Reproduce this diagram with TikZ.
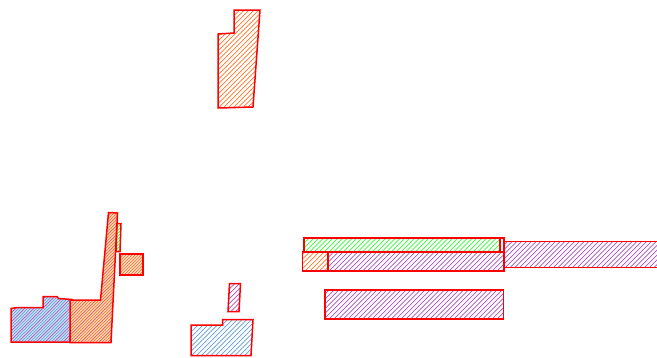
\documentclass[tikz,border=0pt]{standalone}
\definecolor{hor}{RGB}{255,120,40}
\definecolor{hgr}{RGB}{50,255,50}
\definecolor{hpu}{RGB}{175,80,195}
\definecolor{hbl}{RGB}{100,160,220}
\tikzset{
  outl/.style={draw=red, line width=1.5pt, line join=miter},
}
% #1 colour, #2 horizontal step, #3 number of lines, #4 clip path
\newcommand\myhatch[4]{%
  \begin{scope}
    \clip #4;
    \foreach \k in {0,...,#3} {\draw[#1, line width=0.7pt] ({-360+\k*#2},360) -- ++(360,-360);}
  \end{scope}}
\begin{document}
\begin{tikzpicture}[x=1pt,y=-1pt]
\useasboundingbox (0,0) rectangle (657,357);
\clip (0,0) rectangle (657,357);
% top orange polygon
\myhatch{hor}{4.8}{215}{(234,10) -- (260,10) -- (253,107) -- (218,108) -- (218,34) -- (234,33) -- cycle}
\draw[outl] (234,10) -- (260,10) -- (253,107) -- (218,108) -- (218,34) -- (234,33) -- cycle;
% blue polygon lower left
\fill[hbl!30] (11,308.5) -- (18,307.5) -- (43,307.5) -- (43,296.5) -- (57,296.5) -- (58.5,298.5) -- (72,299.5) -- (70,342) -- (11,342) -- cycle;
\myhatch{hbl}{3}{340}{(11,308.5) -- (18,307.5) -- (43,307.5) -- (43,296.5) -- (57,296.5) -- (58.5,298.5) -- (72,299.5) -- (70,342) -- (11,342) -- cycle}
\myhatch{hpu!90}{9}{115}{(11,308.5) -- (18,307.5) -- (43,307.5) -- (43,296.5) -- (57,296.5) -- (58.5,298.5) -- (72,299.5) -- (70,342) -- (11,342) -- cycle}
\draw[outl] (11,308.5) -- (18,307.5) -- (43,307.5) -- (43,296.5) -- (57,296.5) -- (58.5,298.5) -- (72,299.5) -- (70,342) -- (11,342) -- cycle;
% tall orange polygon
\fill[hor!25] (70,300) -- (100.5,300) -- (108.5,212.5) -- (117.5,213) -- (111,342.5) -- (70,342.5) -- cycle;
\myhatch{hor}{3}{340}{(70,300) -- (100.5,300) -- (108.5,212.5) -- (117.5,213) -- (111,342.5) -- (70,342.5) -- cycle}
\myhatch{hor!60!hpu}{9}{115}{(70,300) -- (100.5,300) -- (108.5,212.5) -- (117.5,213) -- (111,342.5) -- (70,342.5) -- cycle}
\draw[outl] (70,300) -- (100.5,300) -- (108.5,212.5) -- (117.5,213) -- (111,342.5) -- (70,342.5) -- cycle;
% green sliver
\myhatch{hgr}{3}{340}{(117,223.5) -- (121,223.5) -- (120,251.5) -- (116,251.5) -- cycle}
\draw[outl] (117,223.5) -- (121,223.5) -- (120,251.5) -- (116,251.5) -- cycle;
% small orange rectangle
\fill[hor!20] (120,254) rectangle (143,275);
\myhatch{hor}{3}{340}{(120,254) rectangle (143,275)}
\draw[outl] (120,254) rectangle (143,275);
% small purple quad
\myhatch{hpu}{4.8}{215}{(229.5,283.5) -- (240.5,283.5) -- (239,311.5) -- (228,311.5) -- cycle}
\draw[outl] (229.5,283.5) -- (240.5,283.5) -- (239,311.5) -- (228,311.5) -- cycle;
% lower blue polygon
\myhatch{hbl}{4.8}{215}{(191,325) -- (222.5,325) -- (222.5,319.5) -- (253,319.5) -- (251,355.5) -- (191,355.5) -- cycle}
\draw[outl] (191,325) -- (222.5,325) -- (222.5,319.5) -- (253,319.5) -- (251,355.5) -- (191,355.5) -- cycle;
% right rectangles
\myhatch{hpu}{4.8}{215}{(504,241.5) rectangle (662,267.5)}
\draw[outl] (504,241.5) rectangle (662,267.5);
\myhatch{hpu}{4.8}{215}{(328,252) rectangle (504,271)}
\draw[outl] (328,252) rectangle (504,271);
\myhatch{hor}{4.8}{215}{(302.5,252) rectangle (328,271)}
\draw[outl] (302.5,252) rectangle (328,271);
\myhatch{hgr}{4.8}{215}{(304,238) rectangle (500,252)}
\draw[outl] (304,238) rectangle (500,252);
\draw[outl] (304,238) rectangle (504,252);
% lower purple rectangle
\myhatch{hpu}{4.8}{215}{(325,290) rectangle (503.5,319)}
\draw[outl] (325,290) rectangle (503.5,319);
\end{tikzpicture}
\end{document}
